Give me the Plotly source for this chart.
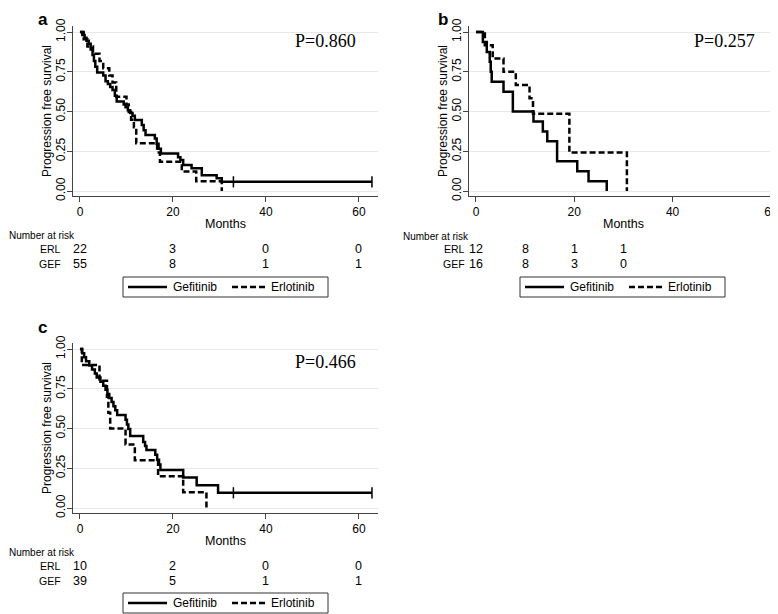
import plotly.graph_objects as go

# Kaplan-Meier step data (months, survival)
months_a_gef = [0, 0.5, 1.0, 1.4, 1.9, 2.3, 2.7, 3.0, 3.3, 3.7, 5.0, 5.5, 6.0, 6.5, 7.0, 7.5, 7.9,
                9.4, 9.8, 10.3, 10.8, 11.3, 11.8, 13.3, 13.7, 14.1, 16.1, 16.5, 16.9, 17.4, 21.1,
                21.6, 22.2, 24.0, 26.2, 29.4, 30.5, 62.8]
surv_a_gef = [1.0, 0.982, 0.964, 0.945, 0.927, 0.891, 0.855, 0.818, 0.782, 0.745, 0.727, 0.691,
              0.673, 0.655, 0.636, 0.600, 0.564, 0.545, 0.527, 0.509, 0.491, 0.473, 0.447, 0.415,
              0.383, 0.352, 0.330, 0.298, 0.266, 0.237, 0.213, 0.195, 0.164, 0.143, 0.100, 0.080,
              0.058, 0.058]
months_a_erl = [0, 0.8, 1.6, 2.8, 4.2, 5.0, 6.3, 7.0, 7.8, 10.0, 10.5, 11.0, 11.6, 12.1, 16.6,
                17.2, 21.9, 25.0, 30.5]
surv_a_erl = [1.0, 0.955, 0.909, 0.864, 0.818, 0.773, 0.727, 0.682, 0.593, 0.545, 0.497, 0.449,
              0.401, 0.301, 0.243, 0.184, 0.123, 0.061, 0.0]
cens_a_months = [33.0, 62.8]
cens_a_surv = [0.058, 0.058]

months_b_gef = [0, 1.4, 2.2, 2.8, 3.0, 3.2, 5.6, 7.5, 11.7, 13.6, 14.5, 16.5, 20.6, 22.9, 26.6]
surv_b_gef = [1.0, 0.9375, 0.875, 0.8125, 0.75, 0.6875, 0.625, 0.5, 0.4375, 0.375, 0.3125,
              0.1875, 0.125, 0.0625, 0.0]
months_b_erl = [0, 1.8, 3.4, 5.6, 8.1, 10.9, 11.6, 19.0, 30.7]
surv_b_erl = [1.0, 0.917, 0.833, 0.75, 0.667, 0.583, 0.486, 0.243, 0.0]

months_c_gef = [0, 0.5, 0.9, 1.3, 2.0, 2.6, 3.2, 3.6, 4.4, 5.0, 5.5, 5.9, 6.3, 6.8, 7.2, 7.6,
                8.0, 9.8, 10.1, 10.4, 10.8, 13.6, 14.0, 14.3, 16.2, 16.6, 17.0, 17.3, 22.2, 25.1,
                29.7, 62.8]
surv_c_gef = [1.0, 0.974, 0.949, 0.923, 0.897, 0.872, 0.846, 0.821, 0.795, 0.769, 0.744, 0.718,
              0.692, 0.667, 0.641, 0.615, 0.585, 0.556, 0.526, 0.497, 0.453, 0.415, 0.390, 0.365,
              0.335, 0.304, 0.274, 0.240, 0.192, 0.144, 0.096, 0.096]
months_c_erl = [0, 0.4, 4.2, 5.8, 6.1, 6.5, 9.8, 11.8, 16.8, 22.2, 27.2]
surv_c_erl = [1.0, 0.9, 0.8, 0.7, 0.6, 0.5, 0.4, 0.3, 0.2, 0.1, 0.0]
cens_c_months = [33.0, 62.8]
cens_c_surv = [0.096, 0.096]

# number at risk tables
risk_ac_times = [0, 20, 40, 60]
risk_a_erl = [22, 3, 0, 0]
risk_a_gef = [55, 8, 1, 1]
risk_b_times = [0, 10, 20, 30]
risk_b_erl = [12, 8, 1, 1]
risk_b_gef = [16, 8, 3, 0]
risk_c_erl = [10, 2, 0, 0]
risk_c_gef = [39, 5, 1, 1]

p_values = ["P=0.860", "P=0.257", "P=0.466"]
panel_labels = ["a", "b", "c"]
series_names = ["Gefitinib", "Erlotinib"]

# the page body has an 8px margin, so the figure is 8px smaller and
# window positions are shifted by 8px when converted to paper coords
OFF = 8
W, H = 778 - OFF, 614 - OFF
SANS = "Liberation Sans, Arial, sans-serif"
SERIF = "Liberation Serif, Times New Roman, serif"
DASH = "6px,3px"


def px(x):
    return (x - OFF) / W


def py(y):
    return 1 - (y - OFF) / H


fig = go.Figure()

panels = [
    ("x", "y", months_a_gef, surv_a_gef, months_a_erl, surv_a_erl),
    ("x2", "y2", months_b_gef, surv_b_gef, months_b_erl, surv_b_erl),
    ("x3", "y3", months_c_gef, surv_c_gef, months_c_erl, surv_c_erl),
]
for xa, ya, mg, sg, me, se in panels:
    fig.add_trace(go.Scatter(x=mg, y=sg, mode="lines", line_shape="hv", name=series_names[0],
                             line=dict(color="black", width=2.5), xaxis=xa, yaxis=ya))
    fig.add_trace(go.Scatter(x=me, y=se, mode="lines", line_shape="hv", name=series_names[1],
                             line=dict(color="black", width=2.5, dash=DASH),
                             xaxis=xa, yaxis=ya))

for xa, ya, cm, cs in [("x", "y", cens_a_months, cens_a_surv), ("x3", "y3", cens_c_months, cens_c_surv)]:
    fig.add_trace(go.Scatter(x=cm, y=cs, mode="markers", xaxis=xa, yaxis=ya,
                             marker=dict(symbol="line-ns-open", size=8, color="black",
                                         line=dict(color="black", width=1.5))))

xdom_left = [px(73), px(378)]
xdom_right = [px(469), 1.0]
ydom_top = [py(196), py(26)]
ydom_bot = [py(513), py(343)]
xr_left = [-1.5, 64.1]
xr_right = [-1.42, 61.44]
yr = [-0.031, 1.038]

common_x = dict(showline=True, linecolor="#444", linewidth=1, ticks="outside", ticklen=5,
                tickcolor="#444", tickvals=[0, 20, 40, 60], showgrid=False, zeroline=False,
                tickfont=dict(size=12, color="black"), ticklabeloverflow="allow",
                title=dict(text="Months", font=dict(size=12.5, color="black"), standoff=0))
common_y = dict(showline=True, linecolor="#444", linewidth=1, ticks="outside", ticklen=5,
                tickcolor="#444", tickvals=[0, 0.25, 0.5, 0.75, 1.0],
                ticktext=["0.00", "0.25", "0.50", "0.75", "1.00"], tickangle=-90,
                ticklabelstandoff=-3,
                showgrid=True, gridcolor="#e8e8e8", gridwidth=1, zeroline=False,
                tickfont=dict(size=12, color="black"), range=yr,
                title=dict(text="Progression free survival", font=dict(size=12, color="black"),
                           standoff=0))

fig.update_layout(
    width=W, height=H, margin=dict(l=0, r=0, t=0, b=0, autoexpand=False),
    paper_bgcolor="white", plot_bgcolor="white", showlegend=False,
    font=dict(family=SANS, color="black"),
    xaxis=dict(common_x, domain=xdom_left, range=xr_left, anchor="y"),
    yaxis=dict(common_y, domain=ydom_top, anchor="x"),
    xaxis2=dict(common_x, domain=xdom_right, range=xr_right, anchor="y2"),
    yaxis2=dict(common_y, domain=ydom_top, anchor="x2"),
    xaxis3=dict(common_x, domain=xdom_left, range=xr_left, anchor="y3"),
    yaxis3=dict(common_y, domain=ydom_bot, anchor="x3"),
)

ann = []
shapes = []
# panel letters
for lab, (x0, y0) in zip(panel_labels, [(37, 19), (437, 19), (37, 327)]):
    ann.append(dict(text="<b>%s</b>" % lab, x=px(x0), y=py(y0), xref="paper", yref="paper",
                    xanchor="left", yanchor="middle", showarrow=False,
                    font=dict(size=17, family=SANS), borderpad=0))
# p-values
for pv, (x0, y0) in zip(p_values, [(358, 41), (757, 41), (358, 362)]):
    ann.append(dict(text=pv, x=px(x0), y=py(y0), xref="paper", yref="paper", xanchor="right",
                    yanchor="middle", showarrow=False, font=dict(size=18, family=SERIF)))

# risk tables
tables = [
    ("x", risk_ac_times, risk_a_erl, risk_a_gef, 8, 62, 235, 249, 264),
    ("x2", risk_b_times, risk_b_erl, risk_b_gef, 402, 466, 236, 249, 264),
    ("x3", risk_ac_times, risk_c_erl, risk_c_gef, 8, 62, 552, 566, 581),
]
for xa, times, erl, gef, head_x, lab_x, head_y, erl_y, gef_y in tables:
    ann.append(dict(text="Number at risk", x=px(head_x), y=py(head_y), xref="paper", yref="paper",
                    xanchor="left", yanchor="middle", showarrow=False, font=dict(size=10),
                    borderpad=0))
    for lab, row_y, vals in [("ERL", erl_y, erl), ("GEF", gef_y, gef)]:
        ann.append(dict(text=lab, x=px(lab_x), y=py(row_y), xref="paper", yref="paper",
                        xanchor="right", yanchor="middle", showarrow=False, font=dict(size=10.5),
                        borderpad=0))
        for t, v in zip(times, vals):
            ann.append(dict(text=str(v), x=t, y=py(row_y), xref=xa, yref="paper",
                            xanchor="center", yanchor="middle", showarrow=False,
                            font=dict(size=12.5), borderpad=0))

# legend boxes (one under each panel)
for lx, ly in [(123, 277), (520, 277), (123, 593)]:
    shapes.append(dict(type="rect", xref="paper", yref="paper", x0=px(lx), x1=px(lx + 205),
                       y0=py(ly + 20), y1=py(ly), line=dict(color="#333", width=1),
                       fillcolor="white", layer="above"))
    mid = py(ly + 10)
    shapes.append(dict(type="line", xref="paper", yref="paper", x0=px(lx + 5), x1=px(lx + 44),
                       y0=mid, y1=mid, line=dict(color="black", width=2.5)))
    shapes.append(dict(type="line", xref="paper", yref="paper", x0=px(lx + 109), x1=px(lx + 142),
                       y0=mid, y1=mid, line=dict(color="black", width=2.5, dash=DASH)))
    for name, tx in zip(series_names, [lx + 49, lx + 147]):
        ann.append(dict(text=name, x=px(tx), y=mid, xref="paper", yref="paper", xanchor="left",
                        yanchor="middle", showarrow=False, font=dict(size=12), borderpad=0))

fig.update_layout(annotations=ann, shapes=shapes)

fig.write_html("out.html")
